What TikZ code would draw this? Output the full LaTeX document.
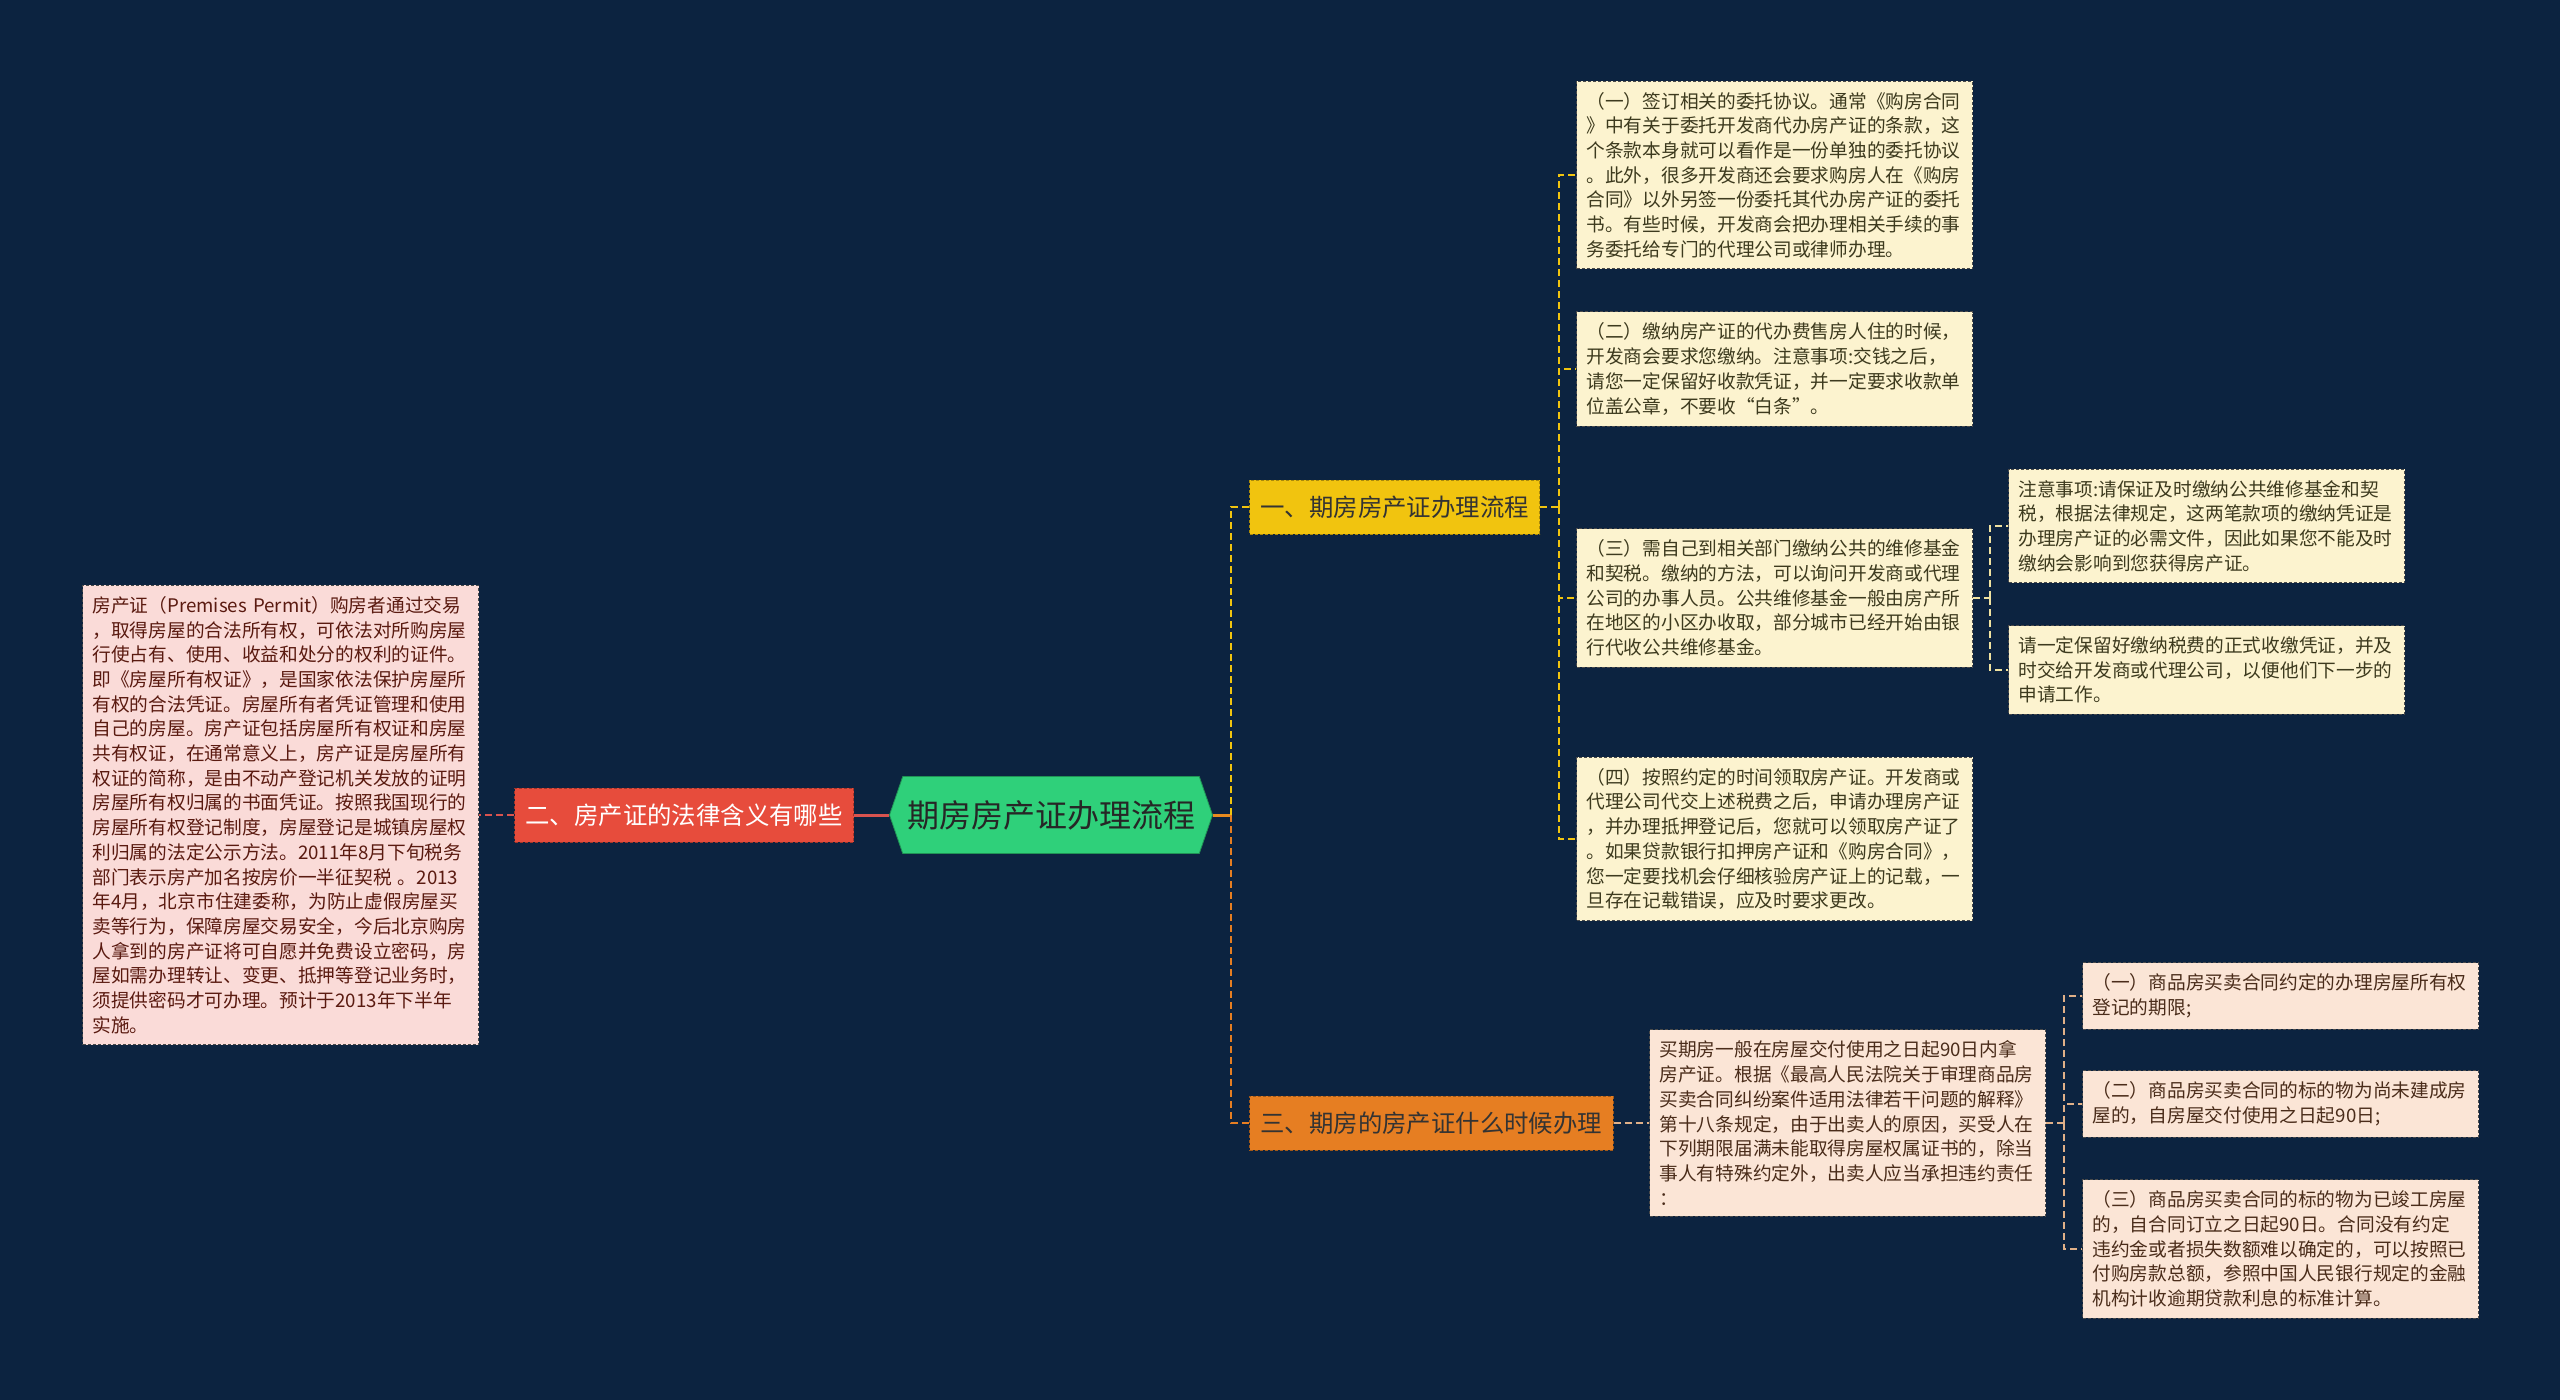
\documentclass[tikz,border=0pt]{standalone}
\usepackage{fontspec}
\newfontfamily\cjk{Noto Sans CJK SC}
\usetikzlibrary{shapes.symbols}
\definecolor{bg}{HTML}{0C2340}
\definecolor{cgreen}{HTML}{2FD07A}
\definecolor{cred}{HTML}{E74C3C}
\definecolor{cyellow}{HTML}{F1C40F}
\definecolor{corange}{HTML}{E67E22}
\definecolor{cream}{HTML}{FCF3CF}
\definecolor{peach}{HTML}{FBE5D6}
\definecolor{pink}{HTML}{FADBD8}
\definecolor{creamtext}{HTML}{3D3A1E}
\definecolor{peachtext}{HTML}{4A2C1A}
\definecolor{pinktext}{HTML}{5A1A10}
\definecolor{boxedge}{HTML}{4A4A4A}
\definecolor{paleline}{HTML}{F0E2A0}
\definecolor{tanline}{HTML}{E0B088}
\definecolor{redline}{HTML}{D9534F}
\begin{document}
\begin{tikzpicture}[x=1pt,y=-1pt,
  txtbox/.style={rectangle, anchor=west, text width=376pt, inner xsep=10pt, inner ysep=11pt,
    align=left, font=\cjk\fontsize{18.7}{24.7}\selectfont, draw=boxedge, dash pattern=on 3pt off 2pt, line width=1pt},
  creambox/.style={txtbox, fill=cream, text=creamtext},
  peachbox/.style={txtbox, fill=peach, text=peachtext},
  pinkbox/.style={txtbox, fill=pink, text=pinktext},
  branch/.style={rectangle, anchor=west, minimum height=54pt, inner xsep=11pt, inner ysep=0pt,
    font=\cjk\fontsize{24.4}{28}\selectfont, dash pattern=on 3pt off 2pt, line width=1pt},
  conn/.style={line width=3pt},
  dconn/.style={line width=2.5pt, dash pattern=on 7pt off 4pt}
]
\useasboundingbox (0,0) rectangle (2560,1400);
\fill[bg] (0,0) rectangle (2560,1400);

% center
\node[signal, signal to=west and east, signal pointer angle=142, fill=cgreen, draw=cgreen!70!black, line width=0.8pt,
  minimum width=323pt, minimum height=77pt, inner sep=0pt, text=black!85,
  font=\cjk\fontsize{32}{36}\selectfont] (c) at (1051,815) {期房房产证办理流程};

% branches
\node[branch, fill=cred, draw=cred!70!black, text=white] (r) at (514,815) {二、房产证的法律含义有哪些};
\node[branch, fill=cyellow, draw=cyellow!70!black, text=black!80] (y) at (1249,507) {一、期房房产证办理流程};
\node[branch, fill=corange, draw=corange!70!black, text=black!80] (o) at (1249,1123) {三、期房的房产证什么时候办理};

% left text
\node[pinkbox] (lt) at (82,815) {房产证（Premises Permit）购房者通过交易\\
，取得房屋的合法所有权，可依法对所购房屋\\
行使占有、使用、收益和处分的权利的证件。\\
即《房屋所有权证》，是国家依法保护房屋所\\
有权的合法凭证。房屋所有者凭证管理和使用\\
自己的房屋。房产证包括房屋所有权证和房屋\\
共有权证，在通常意义上，房产证是房屋所有\\
权证的简称，是由不动产登记机关发放的证明\\
房屋所有权归属的书面凭证。按照我国现行的\\
房屋所有权登记制度，房屋登记是城镇房屋权\\
利归属的法定公示方法。2011年8月下旬税务\\
部门表示房产加名按房价一半征契税 。2013\\
年4月，北京市住建委称，为防止虚假房屋买\\
卖等行为，保障房屋交易安全，今后北京购房\\
人拿到的房产证将可自愿并免费设立密码，房\\
屋如需办理转让、变更、抵押等登记业务时，\\
须提供密码才可办理。预计于2013年下半年\\
实施。};

% right top
\node[creambox] (b1) at (1576,175) {（一）签订相关的委托协议。通常《购房合同\\
》中有关于委托开发商代办房产证的条款，这\\
个条款本身就可以看作是一份单独的委托协议\\
。此外，很多开发商还会要求购房人在《购房\\
合同》以外另签一份委托其代办房产证的委托\\
书。有些时候，开发商会把办理相关手续的事\\
务委托给专门的代理公司或律师办理。};
\node[creambox] (b2) at (1576,369) {（二）缴纳房产证的代办费售房人住的时候，\\
开发商会要求您缴纳。注意事项:交钱之后，\\
请您一定保留好收款凭证，并一定要求收款单\\
位盖公章，不要收“白条”。};
\node[creambox] (b3) at (1576,598) {（三）需自己到相关部门缴纳公共的维修基金\\
和契税。缴纳的方法，可以询问开发商或代理\\
公司的办事人员。公共维修基金一般由房产所\\
在地区的小区办收取，部分城市已经开始由银\\
行代收公共维修基金。};
\node[creambox] (b4) at (1576,839) {（四）按照约定的时间领取房产证。开发商或\\
代理公司代交上述税费之后，申请办理房产证\\
，并办理抵押登记后，您就可以领取房产证了\\
。如果贷款银行扣押房产证和《购房合同》，\\
您一定要找机会仔细核验房产证上的记载，一\\
旦存在记载错误，应及时要求更改。};
\node[creambox] (s3a) at (2008,526) {注意事项:请保证及时缴纳公共维修基金和契\\
税，根据法律规定，这两笔款项的缴纳凭证是\\
办理房产证的必需文件，因此如果您不能及时\\
缴纳会影响到您获得房产证。};
\node[creambox] (s3b) at (2008,670) {请一定保留好缴纳税费的正式收缴凭证，并及\\
时交给开发商或代理公司，以便他们下一步的\\
申请工作。};

% right bottom
\node[peachbox] (bt) at (1649,1123) {买期房一般在房屋交付使用之日起90日内拿\\
房产证。根据《最高人民法院关于审理商品房\\
买卖合同纠纷案件适用法律若干问题的解释》\\
第十八条规定，由于出卖人的原因，买受人在\\
下列期限届满未能取得房屋权属证书的，除当\\
事人有特殊约定外，出卖人应当承担违约责任\\
：};
\node[peachbox] (p1) at (2082,996) {（一）商品房买卖合同约定的办理房屋所有权\\
登记的期限;};
\node[peachbox] (p2) at (2082,1104) {（二）商品房买卖合同的标的物为尚未建成房\\
屋的，自房屋交付使用之日起90日;};
\node[peachbox] (p3) at (2082,1249) {（三）商品房买卖合同的标的物为已竣工房屋\\
的，自合同订立之日起90日。合同没有约定\\
违约金或者损失数额难以确定的，可以按照已\\
付购房款总额，参照中国人民银行规定的金融\\
机构计收逾期贷款利息的标准计算。};

% connectors
\coordinate (jc) at (1231,815);
\draw[conn, draw=corange!90!yellow] (c.east) -- (jc);
\draw[dconn, draw=cyellow] (jc) |- (y.west);
\draw[dconn, draw=corange] (jc) |- (o.west);

\coordinate (jy) at (1559,507);
\draw[dconn, draw=cyellow] (y.east) -- (jy);
\foreach \b in {b1,b2,b3,b4} \draw[dconn, draw=cyellow] (jy) |- (\b.west);

\coordinate (j3) at (1990,598);
\draw[dconn, draw=paleline] (b3.east) -- (j3);
\draw[dconn, draw=paleline] (j3) |- (s3a.west);
\draw[dconn, draw=paleline] (j3) |- (s3b.west);

\draw[dconn, draw=tanline] (o.east) -- (bt.west);
\coordinate (jb) at (2064,1123);
\draw[dconn, draw=tanline] (bt.east) -- (jb);
\foreach \b in {p1,p2,p3} \draw[dconn, draw=tanline] (jb) |- (\b.west);

\draw[conn, draw=redline] (c.west) -- (r.east);
\draw[dconn, draw=redline] (r.west) -- (lt.east);
\end{tikzpicture}
\end{document}
